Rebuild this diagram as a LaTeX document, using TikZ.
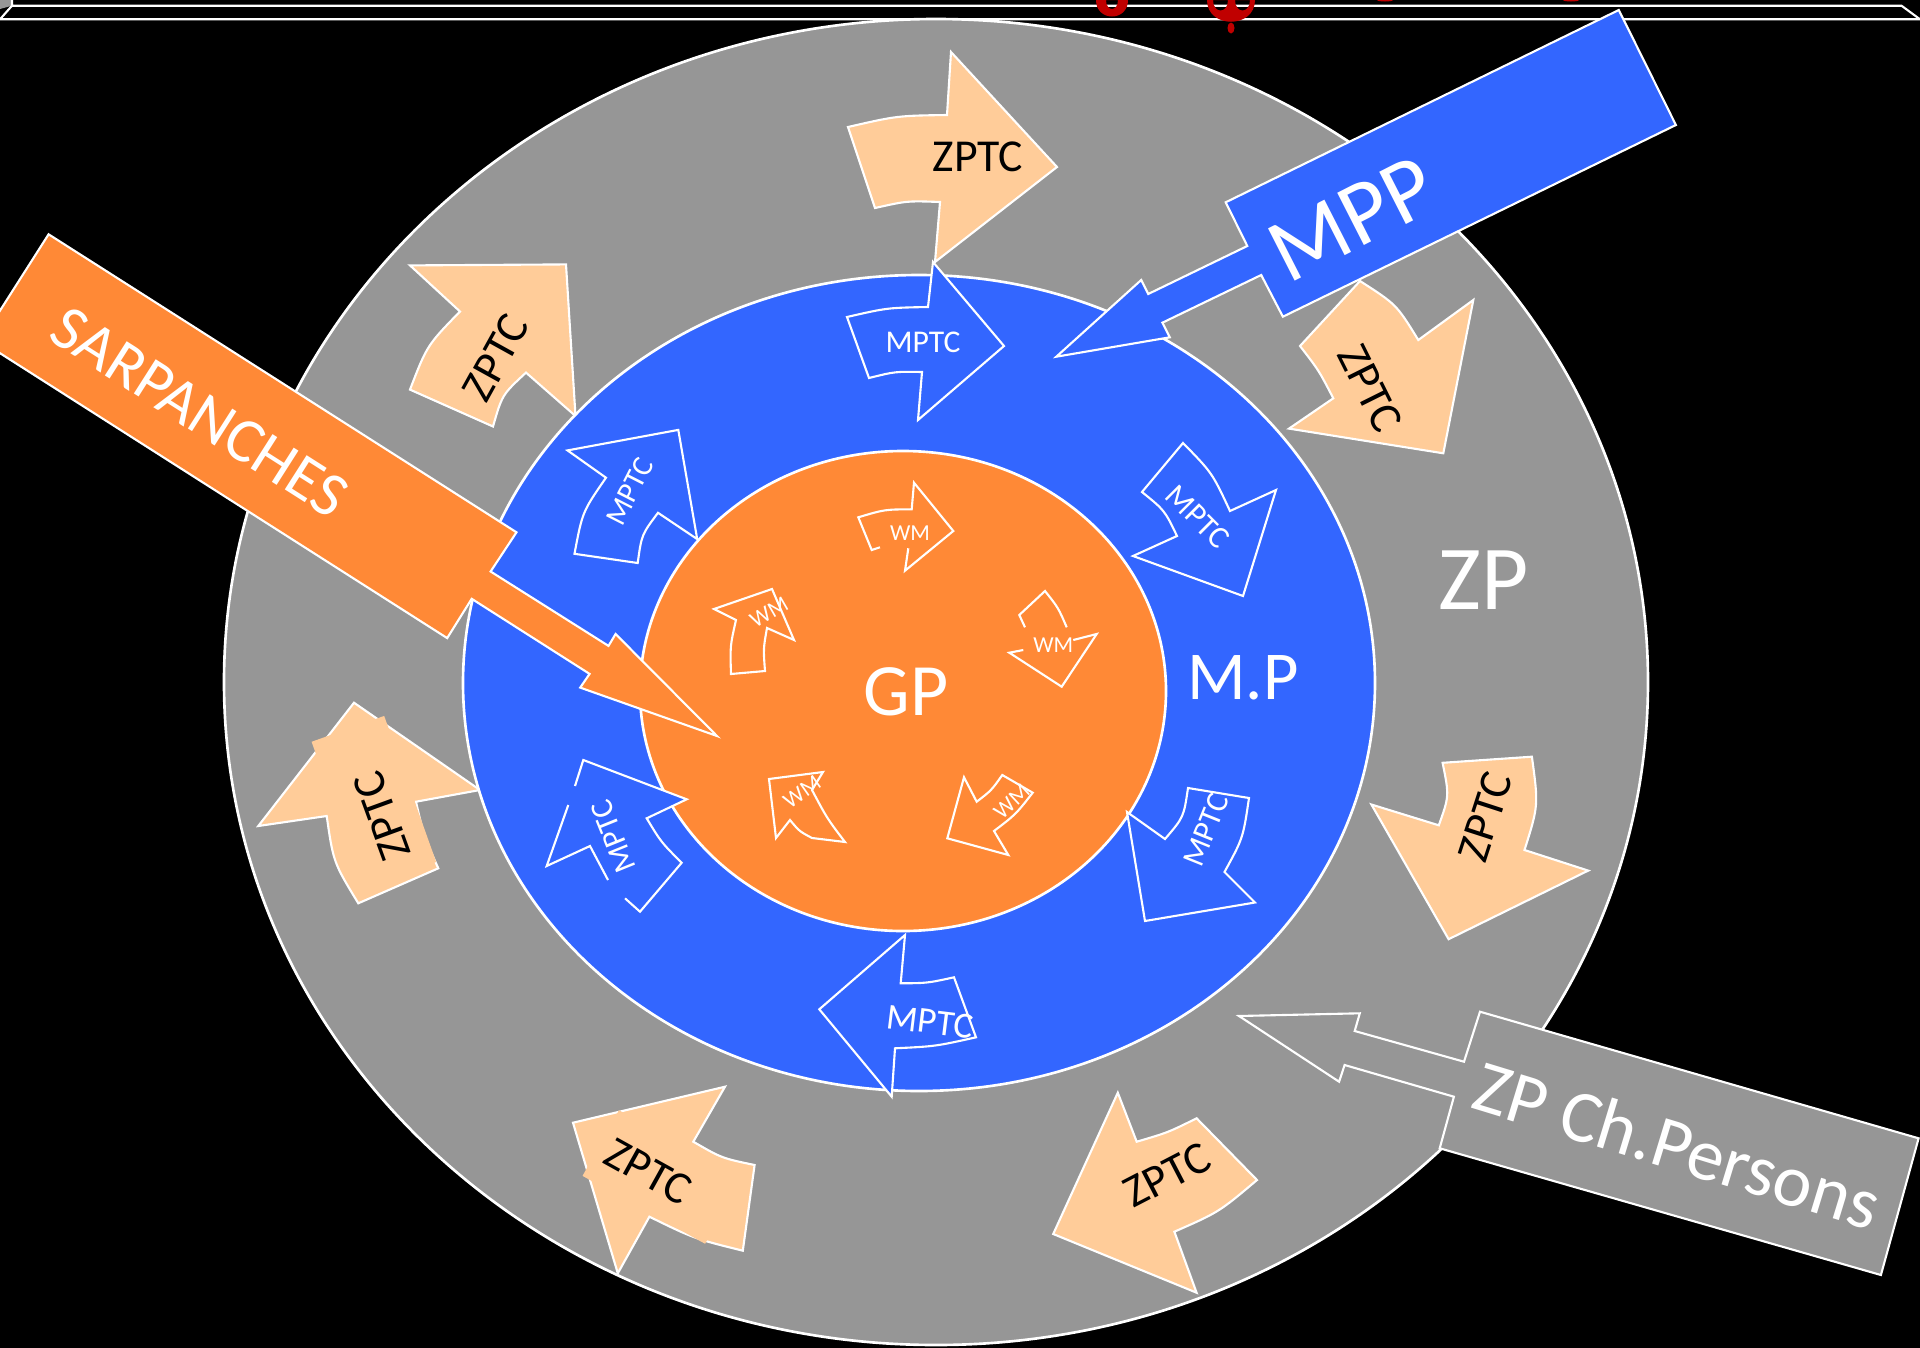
\documentclass[tikz,border=0pt]{standalone}
\usepackage{fontspec}
\setmainfont{Carlito}
\usetikzlibrary{calc}
\definecolor{zpgrey}{RGB}{150,150,150}
\definecolor{mpblue}{RGB}{51,102,255}
\definecolor{gporange}{RGB}{255,137,54}
\definecolor{peach}{RGB}{255,204,153}
\definecolor{glyphred}{RGB}{192,0,0}
% curved edge that bulges away from coordinate (ctr)
\newcommand\bulgeto[3]{.. controls ($(#1)!.5!(#2)!#3!(ctr)$) .. (#2)}
\tikzset{
  ring/.style={draw=white, line width=0.75pt},
  zpa/.style={fill=peach, draw=white, line width=0.6pt},
  mpa/.style={fill=mpblue, draw=white, line width=0.6pt},
  mpline/.style={draw=white, line width=0.6pt},
  wma/.style={draw=white, line width=0.6pt},
  zptxt/.style={text=black, inner sep=0pt, font=\fontsize{13}{13}\selectfont},
  mptxt/.style={text=white, inner sep=0pt, font=\fontsize{9}{9}\selectfont},
  wmtxt/.style={text=white, inner sep=0pt, font=\fontsize{6.5}{6.5}\selectfont},
  bigtxt/.style={text=white, inner sep=0pt},
  callout/.style={draw=white, line width=0.6pt},
  tbox/.style={fill=peach, inner sep=0pt}
}
\begin{document}
\begin{tikzpicture}[x=0.01cm,y=-0.01cm]
\useasboundingbox (0,0) rectangle (1920,1348);
\fill[black] (0,0) rectangle (1920,1348);
\begin{scope}
\clip (0,0) rectangle (1920,1348);

% ---- top strip and clipped red title fragments
\fill[zpgrey] (0,0) -- (12,0) -- (12,5.7) -- (0,9) -- cycle;
\draw[white, line width=0.6pt] (12,0) -- (12,5.7) -- (1901.5,5.7) -- (1920,19.3) -- (0,19.3) -- (12,5.7);
\fill[glyphred, even odd rule] (1096,0) .. controls (1096,22) and (1128,22) .. (1128,0) -- cycle
   (1106,0) .. controls (1106,12) and (1118,12) .. (1118,0) -- cycle;
\fill[glyphred, even odd rule] (1207,0) .. controls (1207,29) and (1255,29) .. (1255,0) -- cycle
   (1213,0) .. controls (1213,14) and (1228,14) .. (1228,0) -- cycle
   (1235,0) .. controls (1235,14) and (1250,14) .. (1250,0) -- cycle;
\fill[glyphred] (1231,28) ellipse [x radius=3.5, y radius=5.5];
\fill[glyphred] (1385,0) ellipse [x radius=8, y radius=1.5];
\fill[glyphred] (1571,0) ellipse [x radius=8, y radius=1.5];

% ---- outer ring ZP
\draw[ring, fill=zpgrey] (936,682) ellipse [x radius=712, y radius=663];

% ---- ZPTC arrows
\coordinate (ctr) at (936,682);
\draw[zpa] (848,127) \bulgeto{848,127}{947,115}{-1.5pt} -- (951,52) -- (1057,167) -- (935,262) -- (940,202) \bulgeto{940,202}{875,208}{-1.2pt} -- cycle;
\node[zptxt] (zt1) at (978,157) {ZPTC};

\draw[zpa] (410,265.4) -- (566,264.4) -- (575.5,416) -- (526,372.6) \bulgeto{526,372.6}{493,426.5}{-2.5pt} -- (410,389.6) \bulgeto{410,389.6}{460,311.5}{-2.7pt} -- cycle;
\node[zptxt, rotate=61] (zt2) at (496,357.5) {ZPTC};

\draw[zpa] (258.3,826) -- (354,702.7) -- (480,790) -- (416,801.7) \bulgeto{416,801.7}{438.3,868.3}{-1pt} -- (358.3,903.3) \bulgeto{358.3,903.3}{326.7,816}{-2.7pt} -- cycle;
\node[tbox, minimum width=1.55cm, minimum height=0.77cm, rotate=109.6] (zb3) at (373.9,801.9) {};
\node[zptxt, rotate=110] (zt3) at (382.3,815.7) {ZPTC};

\draw[zpa] (573,1122.7) -- (725,1086.7) -- (693.3,1141.7) \bulgeto{693.3,1141.7}{754.6,1165}{-1.5pt} -- (742.8,1250.7) \bulgeto{742.8,1250.7}{649.4,1216.7}{-1.5pt} -- (617.8,1273.3) -- cycle;
\node[tbox, minimum width=1.4cm, minimum height=0.75cm, rotate=-29] (zb4) at (662,1177) {};
\node[zptxt, rotate=-29] (zt4) at (648.5,1171.7) {ZPTC};

\draw[zpa] (1053.2,1234) -- (1117.8,1092.7) -- (1136.7,1141.7) \bulgeto{1136.7,1141.7}{1196.6,1118.3}{-0.8pt} -- (1257,1180) \bulgeto{1257,1180}{1174.4,1231.7}{-2pt} -- (1196.6,1292.7) -- cycle;
\node[zptxt, rotate=27.4] (zt5) at (1167.4,1175) {ZPTC};

\draw[zpa] (1473.3,300) -- (1443.3,453.3) -- (1289,428.6) -- (1333.3,398.3) \bulgeto{1333.3,398.3}{1300,346}{-0.8pt} -- (1360,281) \bulgeto{1360,281}{1418.3,340}{-2.7pt} -- cycle;
\node[zptxt, rotate=-63.5] (zt6) at (1370,388.3) {ZPTC};

\draw[zpa] (1371.4,804.5) -- (1448.6,939.2) -- (1588.2,870.6) -- (1524.5,850) \bulgeto{1524.5,850}{1531.9,756.7}{-3pt} -- (1442.6,762.8) \bulgeto{1442.6,762.8}{1438.8,825.3}{-2.5pt} -- cycle;
\node[zptxt, rotate=72] (zt7) at (1485.3,816.7) {ZPTC};

\node[bigtxt, font=\fontsize{26}{26}\selectfont] (zp) at (1483.5,579.8) {ZP};

% ---- middle ring MP
\draw[ring, fill=mpblue] (919,683) ellipse [x radius=456, y radius=408];
\node[bigtxt, font=\fontsize{19.5}{19.5}\selectfont] (mp) at (1243,677.8) {M.P};

% ---- inner circle GP
\draw[ring, fill=gporange] (903,691) ellipse [x radius=263, y radius=240];
\node[bigtxt, font=\fontsize{21}{21}\selectfont] (gp) at (906,692) {GP};

% ---- MPTC arrows
\coordinate (ctr) at (919,683);
\draw[mpa] (847,317) \bulgeto{847,317}{928,307}{-1.2pt} -- (933,262) -- (1004,346) -- (918,420) -- (922,372) \bulgeto{922,372}{869,378}{-1pt} -- cycle;
\node[mptxt] (mt1) at (923,342) {MPTC};

\draw[mpa] (567.5,450.4) -- (678.3,429.9) -- (697.2,539.1) -- (658,512.8) \bulgeto{658,512.8}{637.7,563}{-2pt} -- (574.5,553.8) \bulgeto{574.5,553.8}{606,477.7}{-2.5pt} -- cycle;
\node[mptxt, font=\fontsize{8.5}{8.5}\selectfont, rotate=63] (mt2) at (629.7,491.3) {MPTC};

\draw[mpa] (1276,490) -- (1243,596) -- (1133,556) -- (1177,536) \bulgeto{1177,536}{1142,492}{-1.8pt} -- (1183,443) \bulgeto{1183,443}{1230,511}{-2pt} -- cycle;
\node[mptxt, rotate=-45] (mt3) at (1197.6,516.7) {MPTC};

\draw[mpa] (1127,812) -- (1145,921) -- (1255,902.5) -- (1224.5,872) \bulgeto{1224.5,872}{1249,798}{-2pt} -- (1188,788) \bulgeto{1188,788}{1165,839}{-2.3pt} -- cycle;
\node[mptxt, rotate=68] (mt4) at (1206,830) {MPTC};

\fill[mpblue] (546.7,866) -- (583.3,760) -- (686.7,799.3) -- (646.7,818.3) \bulgeto{646.7,818.3}{681.7,862.7}{-1pt} -- (640,911.7) \bulgeto{640,911.7}{590,846}{-1.5pt} -- cycle;
\draw[mpline] (575,786) -- (583.3,760) -- (686.7,799.3) -- (646.7,818.3) \bulgeto{646.7,818.3}{681.7,862.7}{-1pt} -- (640,911.7) -- (625,898.3);
\draw[mpline] (608,880) -- (590,846) -- (546.7,866) -- (568.3,805);
\node[mptxt, rotate=112] (mt5) at (613.3,836.7) {MPTC};

\draw[mpa] (905,935) -- (819.3,1009.3) -- (891.7,1096.7) -- (895,1048.3) \bulgeto{895,1048.3}{976,1037.3}{-1pt} -- (954,977.3) \bulgeto{954,977.3}{900.7,983.3}{-0.8pt} -- cycle;
\node[mptxt, font=\fontsize{10.4}{10.4}\selectfont, rotate=-7] (mt6) at (930,1021.7) {MPTC};

% ---- WM arrows
\coordinate (ctr) at (903,691);
\draw[wma] (880,547.3) -- (871.7,550) -- (858.3,517.3) \bulgeto{858.3,517.3}{911.7,509.3}{-1.1pt} -- (914,482.7) -- (953.3,531) -- (905,570.7) -- (908.3,548.3);
\node[wmtxt] (wt1) at (910,533) {WM};

\draw[wma] (1066.7,627.3) \bulgeto{1066.7,627.3}{1045,591}{-0.8pt} -- (1019.3,615) -- (1025,627.3);
\draw[wma] (1073.3,640) -- (1096.7,634) -- (1061.7,686.7) -- (1009.3,652.7) -- (1023.3,650);
\node[wmtxt] (wt2) at (1053.3,645) {WM};

\draw[wma] (964,777.3) -- (976.7,801.7) \bulgeto{976.7,801.7}{1002.3,775}{-0.8pt} -- (1032.7,792.7) \bulgeto{1032.7,792.7}{994,831}{-1pt} -- (1008.3,855) -- (947.3,838.3) -- cycle;
\node[wmtxt, rotate=43] (wt3) at (1011.7,801.7) {WM};

\draw[wma] (714,609) -- (772,589) -- (794,640) -- (767,628) \bulgeto{767,628}{765,671}{-0.8pt} -- (731,674) \bulgeto{731,674}{736,620}{-1pt} -- cycle;
\node[wmtxt, rotate=30] (wt4) at (769,612) {WM};

\draw[wma] (769,779) -- (823,772) -- (812,790) \bulgeto{812,790}{845,842}{-0.8pt} -- (812,838) \bulgeto{812,838}{790,820}{-0.8pt} -- (776,838) -- cycle;
\node[wmtxt, rotate=35] (wt5) at (802,792) {WM};

% ---- callouts
\draw[callout, fill=gporange] (48.6,234.3) -- (516.5,532.3) -- (490.6,571.5) -- (608.5,645.9) -- (615.6,634) -- (717,736) -- (580.2,687.6) -- (589.6,673.9) -- (471.7,598.8) -- (447.2,638.1) -- (-19.3,340.9) -- cycle;
\node[bigtxt, font=\fontsize{18}{18}\selectfont, rotate=-32.5] (sarp) at (199.6,412) {SARPANCHES};

\draw[callout, fill=mpblue] (1618.8,10) -- (1675.9,125) -- (1282.9,316.7) -- (1261.2,275) -- (1162.4,322.7) -- (1169.8,337.3) -- (1056.3,356.7) -- (1141.2,280) -- (1148.2,294) -- (1247.3,246) -- (1225.7,202.3) -- cycle;
\node[bigtxt, font=\fontsize{26}{26}\selectfont, rotate=27] (mpp) at (1352,219) {MPP};

\draw[callout, fill=zpgrey] (1480,1011.7) -- (1918.6,1138.3) -- (1880.9,1275) -- (1439.7,1148.3) -- (1453.9,1096.7) -- (1344.6,1065) -- (1339.1,1081.7) -- (1239,1016) -- (1359.8,1013.3) -- (1354.7,1031) -- (1464,1061.7) -- cycle;
\node[bigtxt, font=\fontsize{21}{21}\selectfont, rotate=-17] (zpch) at (1677.6,1145) {ZP Ch.Persons};
\end{scope}
\end{tikzpicture}
\end{document}
